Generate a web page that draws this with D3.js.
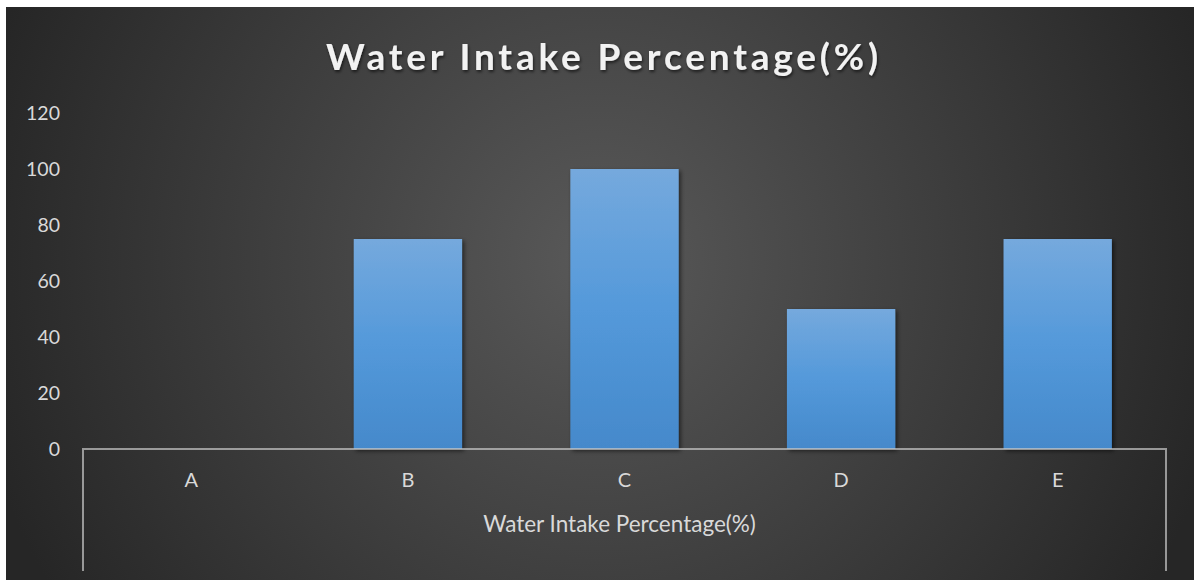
<!DOCTYPE html>
<head>
<meta charset="utf-8">
<style>
body { margin: 0; background: #fff; }
text { font-family: Lato, "Open Sans", sans-serif; }
</style>
</head>
<body>
<div id="chart"></div>
<script src="https://d3js.org/d3.v7.min.js"></script>
<script>
var categories = ["A", "B", "C", "D", "E"];
var values = [0, 75, 100, 50, 75];
var yTicks = [0, 20, 40, 60, 80, 100, 120];
var chartTitle = "Water Intake Percentage(%)";
var groupLabel = "Water Intake Percentage(%)";

var W = 1196, H = 580,
    margin = {top: 113, left: 83, right: 30, bottom: 131};

var svg = d3.select("#chart").append("svg")
  .attr("width", W).attr("height", H);

var defs = svg.append("defs");
var bg = defs.append("radialGradient").attr("id", "bg")
  .attr("gradientUnits", "userSpaceOnUse")
  .attr("cx", 600).attr("cy", 260).attr("r", 640);
bg.append("stop").attr("offset", "0%").attr("stop-color", "#595959");
bg.append("stop").attr("offset", "100%").attr("stop-color", "#262626");

var barGrad = defs.append("linearGradient").attr("id", "barGrad")
  .attr("x1", 0).attr("y1", 0).attr("x2", 0).attr("y2", 1);
barGrad.append("stop").attr("offset", "0%").attr("stop-color", "#75a9dd");
barGrad.append("stop").attr("offset", "50%").attr("stop-color", "#5499da");
barGrad.append("stop").attr("offset", "100%").attr("stop-color", "#4589cb");

var shadow = defs.append("filter").attr("id", "shadow")
  .attr("x", "-10%").attr("y", "-10%").attr("width", "130%").attr("height", "130%");
shadow.append("feDropShadow").attr("dx", 2).attr("dy", 2).attr("stdDeviation", 2)
  .attr("flood-color", "#000").attr("flood-opacity", 0.55);

var tshadow = defs.append("filter").attr("id", "tshadow");
tshadow.append("feDropShadow").attr("dx", 1).attr("dy", 2).attr("stdDeviation", 1.5)
  .attr("flood-color", "#000").attr("flood-opacity", 0.6);

svg.append("rect").attr("x", 6).attr("y", 7).attr("width", 1188).attr("height", H - 7)
  .attr("fill", "url(#bg)");

var x0 = 83, x1 = 1166, baseY = 449;

var x = d3.scaleBand().domain(categories).range([x0, x1])
  .paddingInner(0.5).paddingOuter(0.25);
var y = d3.scaleLinear().domain([0, 120]).range([baseY, margin.top]);

// title
svg.append("text")
  .attr("x", 604).attr("y", 70)
  .attr("text-anchor", "middle")
  .attr("fill", "#f2f2f2")
  .attr("font-size", 37).attr("font-weight", "bold")
  .attr("letter-spacing", 3.8)
  .attr("filter", "url(#tshadow)")
  .text(chartTitle);

// y labels
var yAxis = d3.axisLeft(y).tickValues(yTicks).tickSize(0).tickPadding(0);
var gy = svg.append("g").attr("transform", "translate(60,0)").call(yAxis);
gy.select(".domain").remove();
gy.selectAll("text")
  .attr("fill", "#d9d9d9").attr("font-size", 19.5)
  .style("font-family", "Lato, 'Open Sans', sans-serif");

// bars
svg.selectAll("rect.bar").data(values).enter().append("rect")
  .attr("class", "bar")
  .attr("x", function(d, i) { return x(categories[i]); })
  .attr("y", function(d) { return y(d); })
  .attr("width", x.bandwidth())
  .attr("height", function(d) { return baseY - y(d); })
  .attr("fill", "url(#barGrad)")
  .attr("filter", "url(#shadow)");

// category axis
var xAxis = d3.axisBottom(x).tickSize(0).tickPadding(0);
var gx = svg.append("g").attr("transform", "translate(0," + baseY + ")").call(xAxis);
gx.select(".domain").remove();
gx.selectAll("text")
  .attr("y", 38).attr("dy", 0)
  .attr("fill", "#d9d9d9").attr("font-size", 20)
  .style("font-family", "Lato, 'Open Sans', sans-serif");

var lineColor = "rgba(200,200,200,0.7)";
svg.append("path")
  .attr("d", d3.line()([[x0, 571], [x0, baseY], [x1, baseY], [x1, 571]]))
  .attr("fill", "none").attr("stroke", lineColor).attr("stroke-width", 2);

svg.append("text")
  .attr("x", (x0 + x1) / 2 - 5).attr("y", 532)
  .attr("text-anchor", "middle")
  .attr("fill", "#d9d9d9").attr("font-size", 22.5)
  .text(groupLabel);
</script>
</body>
